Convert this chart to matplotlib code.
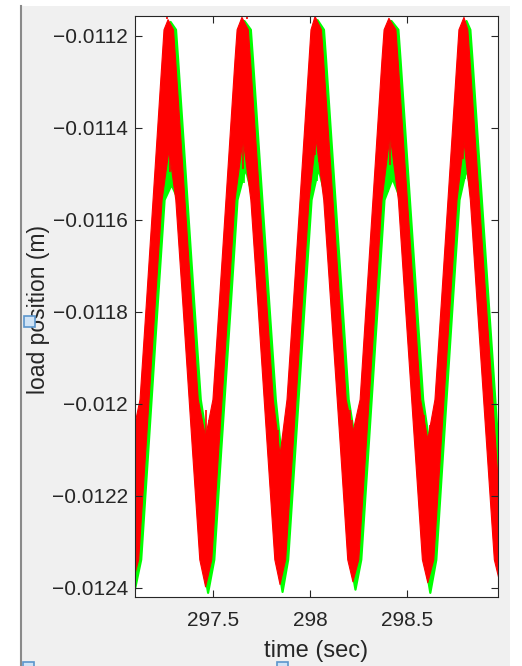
#!/usr/bin/env python3
import numpy as np
import matplotlib
matplotlib.use('Agg')
import matplotlib.pyplot as plt
from matplotlib.patches import Rectangle
from matplotlib.lines import Line2D

# Outline of the noisy bands (time in s, position in m)
# upper edge of the red band
red_up_t = [297.078,
            297.121, 297.155, 297.205, 297.235, 297.245, 297.266, 297.294, 297.305, 297.336, 297.387, 297.422, 297.460,
            297.498, 297.532, 297.582, 297.612, 297.623, 297.648, 297.681, 297.692, 297.723, 297.775, 297.810, 297.845,
            297.881, 297.915, 297.965, 297.995, 298.005, 298.026, 298.059, 298.070, 298.101, 298.153, 298.187, 298.222,
            298.259, 298.292, 298.342, 298.372, 298.383, 298.408, 298.444, 298.455, 298.486, 298.538, 298.572, 298.609,
            298.646, 298.680, 298.730, 298.760, 298.770, 298.796, 298.816, 298.827, 298.858, 298.910, 298.945, 298.979, 298.998]
red_up_v = [-0.012078,
            -0.011991, -0.011774, -0.011448, -0.011252, -0.011187, -0.011165, -0.011187, -0.011252, -0.011448, -0.011774, -0.011991, -0.012072,
            -0.011991, -0.011774, -0.011448, -0.011252, -0.011187, -0.011160, -0.011187, -0.011252, -0.011448, -0.011774, -0.011991, -0.012111,
            -0.011991, -0.011774, -0.011448, -0.011252, -0.011187, -0.011158, -0.011187, -0.011252, -0.011448, -0.011774, -0.011991, -0.012061,
            -0.011991, -0.011774, -0.011448, -0.011252, -0.011187, -0.011162, -0.011187, -0.011252, -0.011448, -0.011774, -0.011991, -0.012078,
            -0.011991, -0.011774, -0.011448, -0.011252, -0.011187, -0.011160, -0.011187, -0.011252, -0.011448, -0.011774, -0.011991, -0.012209, -0.012339]

# lower edge of the red band
red_lo_t = [297.078,
            297.114, 297.151, 297.201, 297.235, 297.271, 297.306, 297.341, 297.392, 297.430, 297.460,
            297.492, 297.528, 297.579, 297.612, 297.654, 297.694, 297.729, 297.780, 297.818, 297.845,
            297.874, 297.911, 297.961, 297.995, 298.031, 298.071, 298.106, 298.158, 298.195, 298.222,
            298.252, 298.289, 298.339, 298.372, 298.414, 298.457, 298.491, 298.543, 298.581, 298.609,
            298.640, 298.676, 298.726, 298.760, 298.796, 298.829, 298.863, 298.915, 298.953, 298.988]
red_lo_v = [-0.012398,
            -0.012339, -0.012100, -0.011774, -0.011557, -0.011448, -0.011557, -0.011774, -0.012100, -0.012339, -0.012398,
            -0.012339, -0.012100, -0.011774, -0.011557, -0.011424, -0.011557, -0.011774, -0.012100, -0.012339, -0.012393,
            -0.012339, -0.012100, -0.011774, -0.011557, -0.011424, -0.011557, -0.011774, -0.012100, -0.012339, -0.012387,
            -0.012339, -0.012100, -0.011774, -0.011557, -0.011415, -0.011557, -0.011774, -0.012100, -0.012339, -0.012389,
            -0.012339, -0.012100, -0.011774, -0.011557, -0.011430, -0.011557, -0.011774, -0.012100, -0.012339, -0.012400]

# upper edge of the green band
green_up_t = [297.091,
              297.134, 297.168, 297.218, 297.248, 297.258, 297.279, 297.307, 297.318, 297.349, 297.400, 297.435, 297.473,
              297.511, 297.545, 297.595, 297.625, 297.636, 297.661, 297.694, 297.705, 297.736, 297.788, 297.823, 297.858,
              297.894, 297.928, 297.978, 298.008, 298.018, 298.039, 298.072, 298.083, 298.114, 298.166, 298.200, 298.235,
              298.272, 298.305, 298.355, 298.385, 298.396, 298.421, 298.457, 298.468, 298.499, 298.551, 298.585, 298.622,
              298.659, 298.693, 298.743, 298.773, 298.783, 298.809, 298.829, 298.840, 298.871, 298.923, 298.958, 298.992, 299.011]
green_up_v = [-0.012100,
              -0.011991, -0.011774, -0.011448, -0.011252, -0.011187, -0.011170, -0.011187, -0.011252, -0.011448, -0.011774, -0.011991, -0.012094,
              -0.011991, -0.011774, -0.011448, -0.011252, -0.011187, -0.011168, -0.011187, -0.011252, -0.011448, -0.011774, -0.011991, -0.012133,
              -0.011991, -0.011774, -0.011448, -0.011252, -0.011187, -0.011166, -0.011187, -0.011252, -0.011448, -0.011774, -0.011991, -0.012083,
              -0.011991, -0.011774, -0.011448, -0.011252, -0.011187, -0.011168, -0.011187, -0.011252, -0.011448, -0.011774, -0.011991, -0.012100,
              -0.011991, -0.011774, -0.011448, -0.011252, -0.011187, -0.011168, -0.011187, -0.011252, -0.011448, -0.011774, -0.011991, -0.012209, -0.012339]

# lower edge of the green band
green_lo_t = [297.091,
              297.127, 297.164, 297.214, 297.248, 297.284, 297.319, 297.354, 297.405, 297.443, 297.473,
              297.505, 297.541, 297.592, 297.625, 297.667, 297.707, 297.742, 297.793, 297.831, 297.858,
              297.887, 297.924, 297.974, 298.008, 298.044, 298.084, 298.119, 298.171, 298.208, 298.235,
              298.265, 298.302, 298.352, 298.385, 298.427, 298.470, 298.504, 298.556, 298.594, 298.622,
              298.653, 298.689, 298.739, 298.773, 298.809, 298.842, 298.876, 298.928, 298.966, 299.001]
green_lo_v = [-0.012411,
              -0.012339, -0.012100, -0.011774, -0.011557, -0.011524, -0.011557, -0.011774, -0.012100, -0.012339, -0.012411,
              -0.012339, -0.012100, -0.011774, -0.011557, -0.011489, -0.011557, -0.011774, -0.012100, -0.012339, -0.012409,
              -0.012339, -0.012100, -0.011774, -0.011557, -0.011489, -0.011557, -0.011774, -0.012100, -0.012339, -0.012404,
              -0.012339, -0.012100, -0.011774, -0.011557, -0.011511, -0.011557, -0.011774, -0.012100, -0.012339, -0.012411,
              -0.012339, -0.012100, -0.011774, -0.011557, -0.011489, -0.011557, -0.011774, -0.012100, -0.012339, -0.012417]

# single noise spikes that stick out of the bands (time, from, to)
red_spike_t = [297.261, 297.276, 297.292, 297.633, 297.654, 297.674, 298.026, 298.047, 298.393, 298.414,
               298.791, 298.812, 297.462, 297.478, 297.835, 297.860, 298.207, 298.217, 298.589, 298.620]
red_spike_a = [-0.011163, -0.011448, -0.011448, -0.011424, -0.011424, -0.011163, -0.011424, -0.011424, -0.011415, -0.011415,
               -0.011430, -0.011430, -0.012072, -0.012072, -0.012111, -0.012111, -0.012061, -0.012061, -0.012078, -0.012078]
red_spike_b = [-0.011159, -0.011496, -0.011470, -0.011452, -0.011489, -0.011157, -0.011459, -0.011474, -0.011448, -0.011480,
               -0.011467, -0.011452, -0.012013, -0.012035, -0.012057, -0.012078, -0.012013, -0.012035, -0.012024, -0.012046]
green_spike_t = [297.256, 297.661, 298.036, 298.404, 298.803]
green_spike_a = [-0.011524, -0.011489, -0.011489, -0.011511, -0.011489]
green_spike_b = [-0.011546, -0.011520, -0.011515, -0.011540, -0.011511]

xticks = [297.5, 298.0, 298.5]
xtick_labels = ['297.5', '298', '298.5']
yticks = [-0.0124, -0.0122, -0.012, -0.0118, -0.0116, -0.0114, -0.0112]
ytick_labels = ['\u22120.0124', '\u22120.0122', '\u22120.012', '\u22120.0118',
                '\u22120.0116', '\u22120.0114', '\u22120.0112']


def band(ax, up_t, up_v, lo_t, lo_v, color, edge):
    # closed outline: upper edge left->right, lower edge right->left
    t = np.concatenate([up_t, lo_t[::-1]])
    v = np.concatenate([up_v, lo_v[::-1]])
    ax.fill(t, v, color=color, lw=edge, edgecolor=color, joinstyle='round')


def main():
    plt.rcParams['font.family'] = ['Liberation Sans', 'DejaVu Sans']

    fig = plt.figure(figsize=(5.22, 6.66), dpi=100, facecolor='white')

    # grey figure panel with its left border, like the MATLAB window
    fig.patches.append(Rectangle((20 / 522, 0), 490 / 522, 660 / 666, transform=fig.transFigure,
                                 facecolor='#f0f0f0', edgecolor='none', zorder=-2))
    fig.lines.append(Line2D([20.5 / 522, 20.5 / 522], [0, 660 / 666], transform=fig.transFigure,
                            color='#8a8a8a', lw=1.5, zorder=-1))

    ax = fig.add_axes([135 / 522, 69 / 666, 363 / 522, 581 / 666])
    ax.set_facecolor('white')

    band(ax, green_up_t, green_up_v, green_lo_t, green_lo_v, '#00ff00', 1.6)
    ax.vlines(green_spike_t, green_spike_a, green_spike_b, color='#00ff00', lw=1.2)
    band(ax, red_up_t, red_up_v, red_lo_t, red_lo_v, '#ff0000', 0.8)
    ax.vlines(red_spike_t, red_spike_a, red_spike_b, color='#ff0000', lw=1.2)

    ax.set_xlim(297.095, 298.972)
    ax.set_ylim(-0.01242, -0.011157)
    ax.set_xticks(xticks)
    ax.set_xticklabels(xtick_labels)
    ax.set_yticks(yticks)
    ax.set_yticklabels(ytick_labels)

    ax.tick_params(direction='in', top=True, right=True, length=5, width=0.8,
                   colors='#262626', labelsize=15)
    ax.tick_params(axis='x', pad=10)
    ax.tick_params(axis='y', pad=5)
    for s in ax.spines.values():
        s.set_color('#262626')
        s.set_linewidth(0.8)
        s.set_zorder(3)

    ax.set_xlabel('time (sec)', fontsize=17, color='#262626', labelpad=7)
    ax.set_ylabel('load position (m)', fontsize=16.5, color='#262626')
    ax.yaxis.set_label_coords(-0.234, 0.494)

    # selection handles
    for x0, y0 in [(24, 316), (23, 662), (277, 662)]:
        fig.patches.append(Rectangle((x0 / 522, 1 - (y0 + 11) / 666), 11 / 522, 11 / 666,
                                     transform=fig.transFigure, facecolor='#cfe3f6',
                                     edgecolor='#5b95cc', lw=1.2, zorder=5))

    fig.savefig('out.png', dpi=100, facecolor=fig.get_facecolor())


if __name__ == "__main__":
    main()
